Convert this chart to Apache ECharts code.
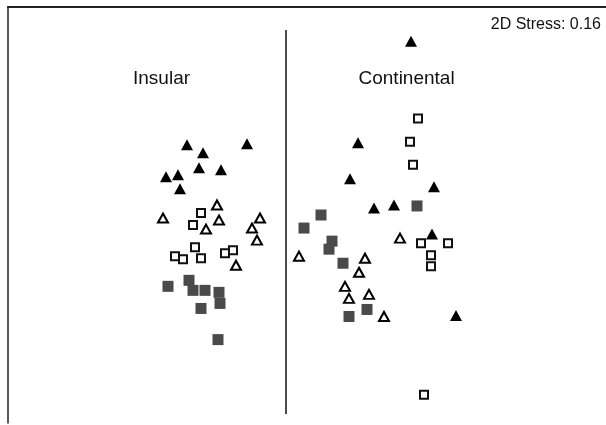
<!DOCTYPE html>
<html><head><meta charset="utf-8">
<script src="https://cdn.jsdelivr.net/npm/echarts@6/dist/echarts.min.js"></script>
<style>html,body{margin:0;padding:0;background:#fff}#c{width:606px;height:425px}</style>
</head><body><div id="c"></div>
<script>
// MDS ordination coordinates (arbitrary units)
const insularFilledTri = [[-0.99,0.81],[-0.39,0.82],[-0.83,0.73],[-0.87,0.58],[-0.65,0.56],[-1.20,0.49],[-1.08,0.51],[-1.06,0.37]];
const insularOpenTri   = [[-0.69,0.21],[-1.23,0.08],[-0.67,0.06],[-0.80,-0.03],[-0.26,0.08],[-0.34,-0.02],[-0.29,-0.14],[-0.50,-0.39]];
const insularOpenSq    = [[-0.85,0.13],[-0.93,0.01],[-0.91,-0.21],[-1.11,-0.30],[-1.03,-0.33],[-0.85,-0.32],[-0.61,-0.27],[-0.53,-0.24]];
const insularFilledSq  = [[-1.18,-0.60],[-0.97,-0.54],[-0.93,-0.64],[-0.81,-0.64],[-0.67,-0.66],[-0.66,-0.77],[-0.85,-0.82],[-0.68,-1.13]];
const contFilledTri    = [[1.25,1.84],[0.72,0.83],[0.64,0.47],[1.48,0.39],[0.88,0.18],[1.08,0.21],[1.46,-0.08],[1.70,-0.89]];
const contOpenTri      = [[0.13,-0.30],[0.79,-0.32],[0.73,-0.46],[0.59,-0.60],[0.63,-0.72],[0.83,-0.68],[0.98,-0.90],[1.14,-0.12]];
const contOpenSq       = [[1.32,1.07],[1.24,0.84],[1.27,0.61],[1.35,-0.17],[1.62,-0.17],[1.45,-0.29],[1.45,-0.40],[1.38,-1.68]];
const contFilledSq     = [[1.31,0.20],[0.35,0.11],[0.18,-0.02],[0.46,-0.15],[0.43,-0.23],[0.57,-0.37],[0.63,-0.90],[0.81,-0.83]];
const groupLabels = ['Insular','Continental'];
const stressLabel = '2D Stress: 0.16';

const filledTri = {symbol:'triangle', symbolSize:[12,11], itemStyle:{color:'#000', opacity:1}};
const openTri   = {symbol:'triangle', symbolSize:[10,9], itemStyle:{color:'#fff', borderColor:'#000', borderWidth:2, opacity:1}};
const openSq    = {symbol:'rect', symbolSize:8, itemStyle:{color:'#fff', borderColor:'#111', borderWidth:2, opacity:1}};
const filledSq  = {symbol:'rect', symbolSize:11, itemStyle:{color:'#4a4a4a', opacity:1}};

function s(data, style){ return Object.assign({type:'scatter', data:data, silent:true, animation:false}, style); }

const font19 = '19px "Liberation Sans", Arial, sans-serif';
const chart = echarts.init(document.getElementById('c'), null, {renderer:'canvas'});
chart.setOption({
  animation:false,
  grid:{left:8, top:7, right:0, bottom:2, containLabel:false},
  xAxis:{type:'value', min:-2.78, max:3.20, position:'top',
    axisLine:{show:true, onZero:false, lineStyle:{color:'#222', width:2}},
    axisTick:{show:false}, axisLabel:{show:false}, splitLine:{show:false}},
  yAxis:{type:'value', min:-1.96, max:2.18,
    axisLine:{show:true, onZero:false, lineStyle:{color:'#222', width:1.5}},
    axisTick:{show:false}, axisLabel:{show:false}, splitLine:{show:false}},
  graphic:[
    {type:'text', x:133, y:79, style:{text:groupLabels[0], font:font19, fill:'#111', verticalAlign:'middle', align:'left'}},
    {type:'text', x:358.5, y:78.5, style:{text:groupLabels[1], font:font19, fill:'#111', verticalAlign:'middle', align:'left'}},
    {type:'text', x:601, y:24.5, style:{text:stressLabel, font:'16px "Liberation Sans", Arial, sans-serif', fill:'#111', verticalAlign:'middle', align:'right'}}
  ],
  series:[
    Object.assign(s([], {}), {markLine:{silent:true, symbol:'none', label:{show:false},
      lineStyle:{color:'#111', width:1.5, type:'solid'},
      data:[[{coord:[0,1.95]},{coord:[0,-1.87]}]]}}),
    s(insularFilledSq, filledSq), s(contFilledSq, filledSq),
    s(insularOpenSq, openSq), s(contOpenSq, openSq),
    s(insularOpenTri, openTri), s(contOpenTri, openTri),
    s(insularFilledTri, filledTri), s(contFilledTri, filledTri)
  ]
});
</script></body></html>
